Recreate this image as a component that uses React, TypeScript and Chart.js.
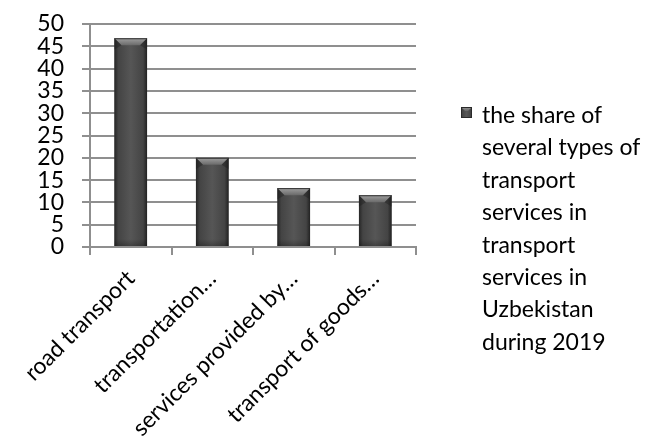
import React, { useEffect, useRef } from "react";
import { Chart, registerables } from "chart.js";

Chart.register(...registerables);

// ---- data ----
const categories = ["road transport", "transportation…", "services provided by…", "transport of goods…"];
const shareValues = [46.8, 20, 13.2, 11.6];
const legendLines = [
  "the share of",
  "several types of",
  "transport",
  "services in",
  "transport",
  "services in",
  "Uzbekistan",
  "during 2019",
];
const seriesLabel = legendLines.join(" ");
const yMin = 0;
const yMax = 50;
const yStep = 5;

const FONT = "Lato, 'Open Sans', sans-serif";
const GRID = "#8f8f8f";

function barGradient(ctx: CanvasRenderingContext2D, l: number, r: number) {
  const g = ctx.createLinearGradient(l, 0, r, 0);
  g.addColorStop(0, "#262626");
  g.addColorStop(0.12, "#444444");
  g.addColorStop(0.5, "#565656");
  g.addColorStop(0.88, "#444444");
  g.addColorStop(1, "#222222");
  return g;
}

const barBevel = {
  id: "barBevel",
  afterDatasetsDraw(chart: any) {
    const ctx: CanvasRenderingContext2D = chart.ctx;
    const meta = chart.getDatasetMeta(0);
    meta.data.forEach((el: any) => {
      const { x, y, base, width } = el.getProps(["x", "y", "base", "width"], true);
      const l = x - width / 2;
      const r = x + width / 2;
      const t = Math.min(y, base);
      const b = Math.max(y, base);
      ctx.save();
      ctx.fillStyle = barGradient(ctx, l, r);
      ctx.fillRect(l, t, width, b - t);
      const bv = Math.min(7, (b - t) / 2);
      // top bevel
      const tg = ctx.createLinearGradient(0, t, 0, t + bv);
      tg.addColorStop(0, "#a0a0a0");
      tg.addColorStop(1, "#6a6a6a");
      ctx.beginPath();
      ctx.moveTo(l, t);
      ctx.lineTo(r, t);
      ctx.lineTo(r - bv, t + bv);
      ctx.lineTo(l + bv, t + bv);
      ctx.closePath();
      ctx.fillStyle = tg;
      ctx.fill();
      // side bevels near top
      ctx.beginPath();
      ctx.moveTo(l, t);
      ctx.lineTo(l + bv, t + bv);
      ctx.lineTo(l, t + bv * 1.6);
      ctx.closePath();
      ctx.fillStyle = "rgba(30,30,30,0.45)";
      ctx.fill();
      ctx.beginPath();
      ctx.moveTo(r, t);
      ctx.lineTo(r - bv, t + bv);
      ctx.lineTo(r, t + bv * 1.6);
      ctx.closePath();
      ctx.fill();
      // bottom darkening
      const bg = ctx.createLinearGradient(0, b - bv, 0, b);
      bg.addColorStop(0, "rgba(0,0,0,0)");
      bg.addColorStop(1, "rgba(0,0,0,0.25)");
      ctx.fillStyle = bg;
      ctx.fillRect(l, b - bv, width, bv);
      // top edge line
      ctx.strokeStyle = "#333333";
      ctx.lineWidth = 1;
      ctx.beginPath();
      ctx.moveTo(l, t + 0.5);
      ctx.lineTo(r, t + 0.5);
      ctx.stroke();
      ctx.restore();
    });
  },
};

const sideLegend = {
  id: "sideLegend",
  afterDraw(chart: any) {
    const ctx: CanvasRenderingContext2D = chart.ctx;
    const area = chart.chartArea;
    const boxX = area.right + 45;
    const boxY = 107;
    const size = 11;
    ctx.save();
    ctx.fillStyle = barGradient(ctx, boxX, boxX + size);
    ctx.fillRect(boxX, boxY, size, size);
    const tg = ctx.createLinearGradient(0, boxY, 0, boxY + 4);
    tg.addColorStop(0, "#9a9a9a");
    tg.addColorStop(1, "#666666");
    ctx.beginPath();
    ctx.moveTo(boxX, boxY);
    ctx.lineTo(boxX + size, boxY);
    ctx.lineTo(boxX + size - 4, boxY + 4);
    ctx.lineTo(boxX + 4, boxY + 4);
    ctx.closePath();
    ctx.fillStyle = tg;
    ctx.fill();
    ctx.strokeStyle = "#2a2a2a";
    ctx.lineWidth = 1;
    ctx.strokeRect(boxX + 0.5, boxY + 0.5, size - 1, size - 1);
    ctx.fillStyle = "#000000";
    ctx.font = `23px ${FONT}`;
    ctx.textBaseline = "alphabetic";
    ctx.textAlign = "left";
    const textX = boxX + 21;
    legendLines.forEach((line, i) => {
      ctx.fillText(line, textX, 123 + i * 32.4);
    });
    ctx.restore();
  },
};

export default function App() {
  const ref = useRef<HTMLCanvasElement | null>(null);

  useEffect(() => {
    document.body.style.margin = "0";
    const canvas = ref.current;
    if (!canvas) return;
    const chart = new Chart(canvas, {
      type: "bar",
      data: {
        labels: categories,
        datasets: [
          {
            label: seriesLabel,
            data: shareValues,
            backgroundColor: "#4a4a4a",
            borderWidth: 0,
            categoryPercentage: 1,
            barPercentage: 0.4,
          },
        ],
      },
      options: {
        responsive: false,
        animation: false,
        devicePixelRatio: 1,
        layout: { padding: { top: 24, right: 238, bottom: 0, left: 0 } },
        plugins: {
          legend: { display: false },
          tooltip: { enabled: false },
          title: { display: false },
        },
        scales: {
          x: {
            ticks: {
              autoSkip: false,
              maxRotation: 45,
              minRotation: 45,
              color: "#000000",
              font: { family: FONT, size: 23 },
              padding: 10,
            },
            grid: {
              offset: true,
              drawOnChartArea: false,
              drawTicks: true,
              tickLength: 8,
              color: GRID,
              lineWidth: 2,
            },
            border: { display: true, color: GRID, width: 2 },
            afterFit(s: any) {
              s.height = 190;
              s.paddingLeft = 0;
              s.paddingRight = 0;
            },
          },
          y: {
            min: yMin,
            max: yMax,
            ticks: {
              stepSize: yStep,
              autoSkip: false,
              color: "#000000",
              font: { family: FONT, size: 23, lineHeight: 1 },
              padding: 18,
            },
            grid: {
              color: GRID,
              lineWidth: 2,
              tickLength: 8,
              drawTicks: true,
            },
            border: { display: true, color: GRID, width: 2 },
            afterFit(s: any) {
              s.width = 90;
              s.paddingTop = 0;
              s.paddingBottom = 0;
            },
          },
        },
      },
      plugins: [barBevel, sideLegend],
    });
    return () => chart.destroy();
  }, []);

  return (
    <div style={{ width: 654, height: 437, background: "#ffffff" }}>
      <canvas ref={ref} width={654} height={437} style={{ display: "block", width: 654, height: 437 }} />
    </div>
  );
}
